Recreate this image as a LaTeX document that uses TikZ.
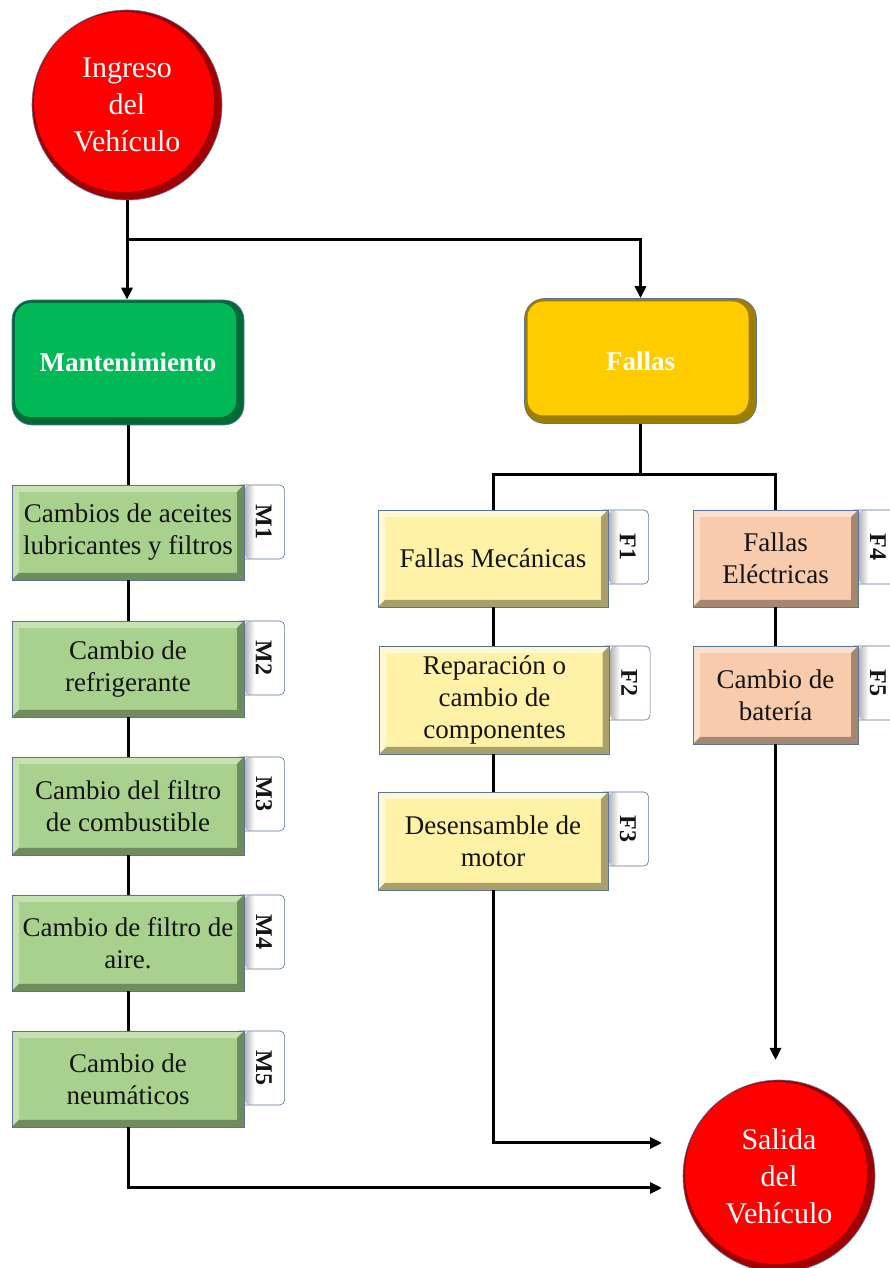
\documentclass[tikz,border=0pt]{standalone}
\usepackage{fontspec}
\setmainfont{Liberation Serif}
\usetikzlibrary{arrows.meta,backgrounds,calc}

\definecolor{cred}{HTML}{FF0000}
\definecolor{credd}{HTML}{A00000}
\definecolor{cgreen}{HTML}{00B956}
\definecolor{cgreend}{HTML}{006B36}
\definecolor{cgold}{HTML}{FFCC00}
\definecolor{cgoldd}{HTML}{9C7E00}
\definecolor{lgreen}{HTML}{A9D18E}
\definecolor{lgreenl}{HTML}{C6E2B2}
\definecolor{lgreend}{HTML}{6F8C5C}
\definecolor{lyel}{HTML}{FFF2A6}
\definecolor{lyell}{HTML}{FFF8D2}
\definecolor{lyeld}{HTML}{A89F6B}
\definecolor{peach}{HTML}{F8CBAD}
\definecolor{peachl}{HTML}{FCE0CE}
\definecolor{peachd}{HTML}{A3876F}
\definecolor{edge}{HTML}{5A72A0}
\definecolor{ink}{HTML}{141414}

\def\pb{path picture bounding box}

\tikzset{
  x=1pt, y=1pt,
  startend/.style={circle, minimum size=#1, inner sep=0pt, fill=credd, draw=edge,
    line width=0.6pt, text=white, align=center,
    font=\fontsize{30}{37}\selectfont,
    path picture={\fill[cred] ([xshift=-3pt,yshift=3pt]\pb.center) circle ({#1/2-5pt});}},
  headbox/.style 2 args={rectangle, rounded corners=20pt, minimum width=232pt,
    minimum height=125pt, fill=#2, draw=edge, line width=0.6pt, text=white,
    font=\bfseries\fontsize{27}{32}\selectfont,
    path picture={\fill[#1, rounded corners=16pt] ([xshift=3pt,yshift=-3pt]\pb.north west)
       rectangle ([xshift=-8pt,yshift=8pt]\pb.south east);}},
  itembox/.style n args={3}{rectangle, fill=#1, draw=edge, line width=0.6pt,
    text=ink, align=center, inner sep=0pt,
    font=\fontsize{27}{32}\selectfont,
    path picture={
      \fill[#2] (\pb.north west) -- (\pb.north east) -- ([xshift=-7pt,yshift=-7pt]\pb.north east)
         -- ([xshift=7pt,yshift=-7pt]\pb.north west) -- cycle;
      \fill[#2] (\pb.north west) -- (\pb.south west) -- ([xshift=7pt,yshift=7pt]\pb.south west)
         -- ([xshift=7pt,yshift=-7pt]\pb.north west) -- cycle;
      \fill[#3] (\pb.south west) -- (\pb.south east) -- ([xshift=-7pt,yshift=7pt]\pb.south east)
         -- ([xshift=7pt,yshift=7pt]\pb.south west) -- cycle;
      \fill[#3] (\pb.north east) -- (\pb.south east) -- ([xshift=-7pt,yshift=7pt]\pb.south east)
         -- ([xshift=-7pt,yshift=-7pt]\pb.north east) -- cycle;}},
  mbox/.style={itembox={lgreen}{lgreenl}{lgreend}, minimum width=232pt},
  fbox/.style={itembox={lyel}{lyell}{lyeld}, minimum width=230pt},
  ebox/.style={itembox={peach}{peachl}{peachd}, minimum width=165pt},
  tab/.style={rectangle, rounded corners=5pt, minimum width=50pt, minimum height=74pt,
    fill=white, draw=edge, line width=0.6pt, anchor=north west, inner sep=0pt,
    path picture={
      \fill[gray!60] (\pb.north west) rectangle ([xshift=10pt]\pb.south west);
      \shade[left color=gray!60, right color=white] ([xshift=10pt]\pb.north west)
         rectangle ([xshift=20pt]\pb.south west);}},
  tabtext/.style={rotate=-90, font=\bfseries\fontsize{24}{28}\selectfont, text=ink, inner sep=0pt},
  conn/.style={draw=black, line width=3pt, line join=miter},
  arr/.style={conn, -{Triangle[length=12pt,width=11pt]}},
}

\begin{document}
\begin{tikzpicture}
\useasboundingbox (0,0) rectangle (890,1268);
\clip (0,0) rectangle (890,1268);

% start / end
\node[startend=190pt] (in) at (127,1163) {Ingreso\\del\\Vehículo};
\node[startend=192pt] (out) at (779,92) {Salida\\del\\Vehículo};

% headers
\node[headbox={cgreen}{cgreend}] (mant) at (128,905.5) {Mantenimiento};
\node[headbox={cgold}{cgoldd}] (fal) at (640.5,907) {Fallas};

% maintenance items
\node[mbox, minimum height=95pt] (m1) at (128,735.5) {Cambios de aceites\\lubricantes y filtros};
\node[mbox, minimum height=96pt] (m2) at (128,599) {Cambio de\\refrigerante};
\node[mbox, minimum height=98pt] (m3) at (128,462) {Cambio del filtro\\de combustible};
\node[mbox, minimum height=96pt] (m4) at (128,325) {Cambio de filtro de\\aire.};
\node[mbox, minimum height=96pt] (m5) at (128,189) {Cambio de\\neumáticos};

% failure items
\node[fbox, minimum height=97pt] (f1) at (493,709.5) {Fallas Mecánicas};
\node[fbox, minimum height=108pt] (f2) at (494.5,568) {Reparación o\\cambio de\\componentes};
\node[fbox, minimum height=98pt] (f3) at (493,427) {Desensamble de\\motor};
\node[ebox, minimum height=97pt] (f4) at (775.5,709.5) {Fallas\\Eléctricas};
\node[ebox, minimum height=98pt] (f5) at (775.5,573) {Cambio de\\batería};

% tabs
\begin{pgfonlayer}{background}
\foreach \b/\t in {m1/M1,m2/M2,m3/M3,m4/M4,m5/M5,f1/F1,f2/F2,f3/F3,f4/F4,f5/F5}{
  \node[tab] (tab\b) at ([xshift=-10pt]\b.north east) {};
  \node[tabtext] (lab\b) at ([xshift=-21pt]tab\b.east) {\t};
}
\end{pgfonlayer}

% connectors
\coordinate (j1) at (127,1028);
\draw[conn] (in.south) -- (j1);
\draw[arr] (j1) -- (j1 |- mant.north);
\draw[arr] (j1) -| (fal.north);

\draw[conn] (mant.south) -- (m1.north);
\draw[conn] (m1.south) -- (m2.north);
\draw[conn] (m2.south) -- (m3.north);
\draw[conn] (m3.south) -- (m4.north);
\draw[conn] (m4.south) -- (m5.north);
\coordinate (e1) at (662,80);
\draw[arr] (m5.south) |- (e1);

\coordinate (j2) at (640.5,793);
\draw[conn] (fal.south) -- (j2);
\draw[conn] (f1.north) |- (j2) -| (f4.north);
\draw[conn] (f1.south) -- (f1.south |- f2.north);
\draw[conn] (f2.south -| f3.north) -- (f3.north);
\coordinate (e2) at (662,125);
\draw[arr] (f3.south) |- (e2);

\draw[conn] (f4.south) -- (f5.north);
\coordinate (e3) at (775.5,208);
\draw[arr] (f5.south) -- (e3);
\end{tikzpicture}
\end{document}
